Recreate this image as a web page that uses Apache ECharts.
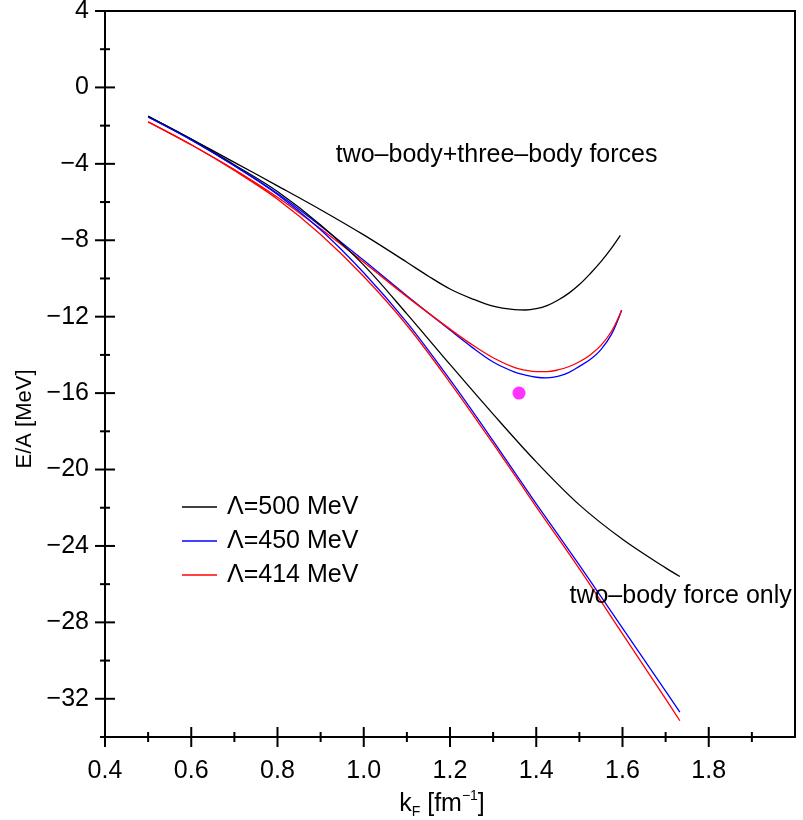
<!DOCTYPE html>
<html>
<head>
<meta charset="utf-8">
<script src="https://cdn.jsdelivr.net/npm/echarts@6/dist/echarts.min.js"></script>
<style>
  html, body { margin: 0; padding: 0; background: #fff; }
  #chart { width: 803px; height: 820px; }
</style>
</head>
<body>
<div id="chart"></div>
<script>
// Fermi momentum grids (fm^-1); finer steps where the curves bend near saturation
const kTwoBody = [0.5, 0.6, 0.7, 0.8, 0.9, 1.0, 1.1, 1.2, 1.3, 1.4, 1.5, 1.6, 1.7, 1.733];
const kThreeBody = [0.5, 0.6, 0.7, 0.8, 0.9, 1.0, 1.1, 1.2, 1.25, 1.3, 1.35, 1.375, 1.4, 1.425, 1.45,
                    1.475, 1.5, 1.525, 1.55, 1.575, 1.598];
const kThreeBody500 = [0.5, 0.6, 0.7, 0.8, 0.9, 1.0, 1.1, 1.15, 1.2, 1.25, 1.3, 1.35, 1.375, 1.4, 1.425,
                       1.45, 1.475, 1.5, 1.525, 1.55, 1.575, 1.595];

// Energy per nucleon (MeV), two-body force only
const e500Two = [-1.52, -2.7, -4.05, -5.45, -7.2, -9.3, -11.85, -14.5, -17.1, -19.6, -21.85, -23.65, -25.15, -25.6];
const e450Two = [-1.55, -2.75, -4.1, -5.6, -7.45, -9.7, -12.3, -15.3, -18.5, -21.8, -25.0, -28.3, -31.6, -32.7];
const e414Two = [-1.8, -3.0, -4.35, -5.85, -7.7, -9.9, -12.45, -15.45, -18.65, -21.95, -25.2, -28.6, -32.0, -33.15];

// Energy per nucleon (MeV), two-body + three-body forces
const e500Three = [-1.5, -2.7, -3.92, -5.15, -6.4, -7.72, -9.15, -9.88, -10.55, -11.05, -11.45, -11.63, -11.65,
                   -11.58, -11.42, -11.14, -10.78, -10.32, -9.75, -9.12, -8.4, -7.75];
const e450Three = [-1.55, -2.75, -4.1, -5.55, -7.25, -9.05, -10.9, -12.7, -13.58, -14.37, -14.9, -15.06, -15.17,
                   -15.2, -15.13, -14.93, -14.6, -14.24, -13.72, -12.9, -11.66];
const e414Three = [-1.8, -3.0, -4.3, -5.75, -7.4, -9.15, -10.95, -12.65, -13.45, -14.15, -14.67, -14.8, -14.88,
                   -14.88, -14.79, -14.62, -14.36, -14.0, -13.5, -12.75, -11.66];

// Empirical saturation point
const satK = 1.36;
const satE = -16;

// Axis ranges and ticks
const xRange = [0.4, 2.0];
const yRange = [-34, 4];
const xMajor = [0.4, 0.6, 0.8, 1.0, 1.2, 1.4, 1.6, 1.8];
const xMinor = [0.5, 0.7, 0.9, 1.1, 1.3, 1.5, 1.7, 1.9];
const yMajor = [-32, -28, -24, -20, -16, -12, -8, -4, 0, 4];
const yMinor = [-34, -30, -26, -22, -18, -14, -10, -6, -2, 2];

const names = ['\u039B=500 MeV', '\u039B=450 MeV', '\u039B=414 MeV'];
const colors = ['#000000', '#0000ff', '#ff0000'];

const FONT = "'Liberation Sans', Arial, Helvetica, sans-serif";
const LABEL_SIZE = 25;
const MAJOR_LEN = 10;
const MINOR_LEN = 5;

const zip = (xs, ys) => xs.map((x, i) => [x, ys[i]]);

// Tick marks crossing the frame: [x, y, half-length, orientation (0 = on x axis, 1 = on y axis)]
const tickData = []
  .concat(xMajor.map(v => [v, yRange[0], MAJOR_LEN, 0]))
  .concat(xMinor.map(v => [v, yRange[0], MINOR_LEN, 0]))
  .concat(yMajor.map(v => [xRange[0], v, MAJOR_LEN, 1]))
  .concat(yMinor.map(v => [xRange[0], v, MINOR_LEN, 1]));

function renderTick(params, api) {
  const p = api.coord([api.value(0), api.value(1)]);
  const len = api.value(2);
  const vertical = api.value(3) === 0;
  return {
    type: 'line',
    shape: vertical
      ? { x1: p[0], y1: p[1] - len, x2: p[0], y2: p[1] + len }
      : { x1: p[0] - len, y1: p[1], x2: p[0] + len, y2: p[1] },
    style: { stroke: '#000', lineWidth: 2 }
  };
}

const line = (name, color, k, e) => ({
  name: name,
  type: 'line',
  data: zip(k, e),
  smooth: 0.35,
  symbol: 'none',
  lineStyle: { color: color, width: 1.3 },
  itemStyle: { color: color },
  z: 3
});

const chart = echarts.init(document.getElementById('chart'), null, { renderer: 'canvas' });

chart.setOption({
  backgroundColor: '#ffffff',
  animation: false,
  textStyle: { fontFamily: FONT },
  grid: {
    left: 105, top: 11, right: 8, bottom: 83,
    outerBoundsMode: 'none',
    containLabel: false,
    show: true, borderColor: '#000', borderWidth: 2, backgroundColor: 'transparent'
  },
  xAxis: {
    type: 'value',
    min: xRange[0],
    max: xRange[1],
    splitLine: { show: false },
    axisLine: { onZero: false, lineStyle: { color: '#000', width: 2 } },
    axisTick: { show: false },
    axisLabel: {
      customValues: xMajor,
      color: '#000',
      fontFamily: FONT,
      fontSize: LABEL_SIZE,
      margin: 22,
      formatter: v => Number(v).toFixed(1)
    },
    name: '{b|k}{sub|F}{b| [fm}{sup|\u22121}{b|]}',
    nameLocation: 'middle',
    nameGap: 50,
    nameTextStyle: {
      color: '#000',
      padding: [0, 16, 0, 0],
      rich: {
        b: { fontSize: 25, fontFamily: FONT, color: '#000', lineHeight: 30, verticalAlign: 'middle' },
        sub: { fontSize: 14, fontFamily: FONT, color: '#000', lineHeight: 30, verticalAlign: 'bottom' },
        sup: { fontSize: 14, fontFamily: FONT, color: '#000', lineHeight: 30, verticalAlign: 'top' }
      }
    }
  },
  yAxis: {
    type: 'value',
    min: yRange[0],
    max: yRange[1],
    splitLine: { show: false },
    axisLine: { onZero: false, lineStyle: { color: '#000', width: 2 } },
    axisTick: { show: false },
    axisLabel: {
      customValues: yMajor,
      color: '#000',
      fontFamily: FONT,
      fontSize: LABEL_SIZE,
      margin: 16,
      formatter: v => String(v).replace('-', '\u2212')
    },
    name: 'E/A [MeV]',
    nameLocation: 'middle',
    nameGap: 66,
    nameRotate: 90,
    nameTextStyle: { color: '#000', fontSize: 22, fontFamily: FONT, padding: [0, 90, 0, 0] }
  },
  legend: {
    orient: 'vertical',
    left: 177,
    top: 489,
    icon: 'rect',
    itemWidth: 35,
    itemHeight: 1.5,
    itemGap: 8,
    selectedMode: false,
    data: names,
    textStyle: { color: '#000', fontSize: LABEL_SIZE, lineHeight: 26, fontFamily: FONT, padding: [0, 0, 0, 5] }
  },
  series: [
    line(names[0], colors[0], kThreeBody500, e500Three),
    line(names[1], colors[1], kThreeBody, e450Three),
    line(names[2], colors[2], kThreeBody, e414Three),
    line(names[0], colors[0], kTwoBody, e500Two),
    line(names[1], colors[1], kTwoBody, e450Two),
    line(names[2], colors[2], kTwoBody, e414Two),
    {
      name: 'saturation',
      type: 'scatter',
      data: [[satK, satE]],
      symbol: 'circle',
      symbolSize: 13,
      itemStyle: { color: '#ff00ff' },
      z: 4
    },
    {
      name: 'ticks',
      type: 'custom',
      data: tickData,
      renderItem: renderTick,
      clip: false,
      silent: true,
      z: 6
    }
  ]
});

// Curve-group captions anchored in data coordinates
const captions = [
  { text: 'two\u2013body+three\u2013body forces', at: [0.935, -3.55] },
  { text: 'two\u2013body force only', at: [1.477, -26.6] }
];
chart.setOption({
  graphic: captions.map(c => {
    const p = chart.convertToPixel({ gridIndex: 0 }, c.at);
    return {
      type: 'text',
      x: p[0],
      y: p[1],
      z: 10,
      style: {
        text: c.text,
        fill: '#000',
        font: LABEL_SIZE + 'px ' + FONT,
        verticalAlign: 'middle'
      }
    };
  })
});
</script>
</body>
</html>
